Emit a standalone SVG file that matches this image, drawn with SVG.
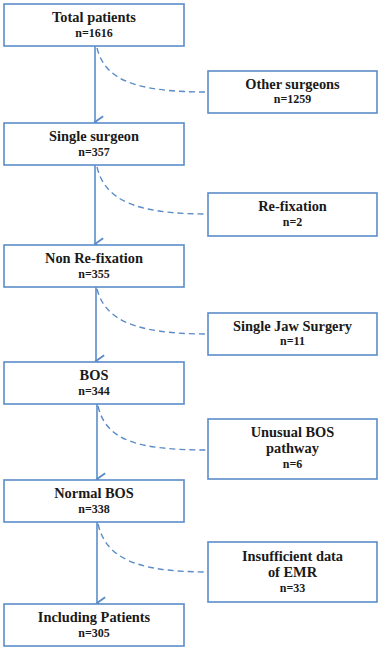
<svg xmlns="http://www.w3.org/2000/svg" width="380" height="650" viewBox="0 0 380 650">
<defs>
<style>
.box{fill:#fff;stroke:#5b8cc8;stroke-width:1.6}
.t{font-family:"Liberation Serif","Times New Roman",serif;font-weight:bold;font-size:14.4px;fill:#1a1a1a;text-anchor:middle}
.n{font-family:"Liberation Serif","Times New Roman",serif;font-weight:bold;font-size:12px;fill:#1a1a1a;text-anchor:middle}
.arr{fill:none;stroke:#5b8cc8;stroke-width:1.6;marker-end:url(#ah)}
.dash{fill:none;stroke:#5b8cc8;stroke-width:1.4;stroke-dasharray:6 4}
</style>
<marker id="ah" markerUnits="userSpaceOnUse" markerWidth="14" markerHeight="12" refX="6" refY="8" orient="auto-start-reverse" viewBox="0 0 12 10">
<path d="M1,1 L6,8 L11,1" fill="none" stroke="#5b8cc8" stroke-width="1.6"/>
</marker>
</defs>
<rect width="380" height="650" fill="#fff"/>
<g id="connectors">
<path class="arr" d="M95,46 L95,122"/>
<path class="arr" d="M95,165 L95,244"/>
<path class="arr" d="M96,287 L96,361"/>
<path class="arr" d="M97,404 L97,479"/>
<path class="arr" d="M97,522 L97,603"/>
<path class="dash" d="M97,48 C105,80 135,92 208,92"/>
<path class="dash" d="M97,167 C105,200 135,214 208,214"/>
<path class="dash" d="M97,289 C105,320 135,334 208,334"/>
<path class="dash" d="M98,406 C106,440 136,450 208,450"/>
<path class="dash" d="M98,524 C106,558 136,572 208,572"/>
</g>
<g id="n1"><rect class="box" x="4" y="4" width="180" height="42"/><text class="t" x="94" y="22">Total patients</text><text class="n" x="94" y="37">n=1616</text></g>
<g id="n2"><rect class="box" x="4" y="123" width="180" height="42"/><text class="t" x="94" y="141">Single surgeon</text><text class="n" x="94" y="156">n=357</text></g>
<g id="n3"><rect class="box" x="4" y="245" width="180" height="42"/><text class="t" x="94" y="263">Non Re-fixation</text><text class="n" x="94" y="278">n=355</text></g>
<g id="n4"><rect class="box" x="4" y="362" width="180" height="42"/><text class="t" x="94" y="380">BOS</text><text class="n" x="94" y="395">n=344</text></g>
<g id="n5"><rect class="box" x="4" y="480" width="180" height="42"/><text class="t" x="94" y="498">Normal BOS</text><text class="n" x="94" y="513">n=338</text></g>
<g id="n6"><rect class="box" x="4" y="604" width="180" height="42"/><text class="t" x="94" y="622">Including Patients</text><text class="n" x="94" y="637">n=305</text></g>
<g id="e1"><rect class="box" x="208" y="71" width="169" height="42"/><text class="t" x="292.5" y="89">Other surgeons</text><text class="n" x="292.5" y="103">n=1259</text></g>
<g id="e2"><rect class="box" x="208" y="193" width="169" height="43"/><text class="t" x="292.5" y="211">Re-fixation</text><text class="n" x="292.5" y="226">n=2</text></g>
<g id="e3"><rect class="box" x="208" y="313" width="169" height="42"/><text class="t" x="292.5" y="331">Single Jaw Surgery</text><text class="n" x="292.5" y="345">n=11</text></g>
<g id="e4"><rect class="box" x="208" y="419" width="169" height="60"/><text class="t" x="292.5" y="437">Unusual BOS</text><text class="t" x="292.5" y="453">pathway</text><text class="n" x="292.5" y="468">n=6</text></g>
<g id="e5"><rect class="box" x="208" y="542" width="169" height="60"/><text class="t" x="292.5" y="561">Insufficient data</text><text class="t" x="292.5" y="577">of EMR</text><text class="n" x="292.5" y="592">n=33</text></g>
</svg>
